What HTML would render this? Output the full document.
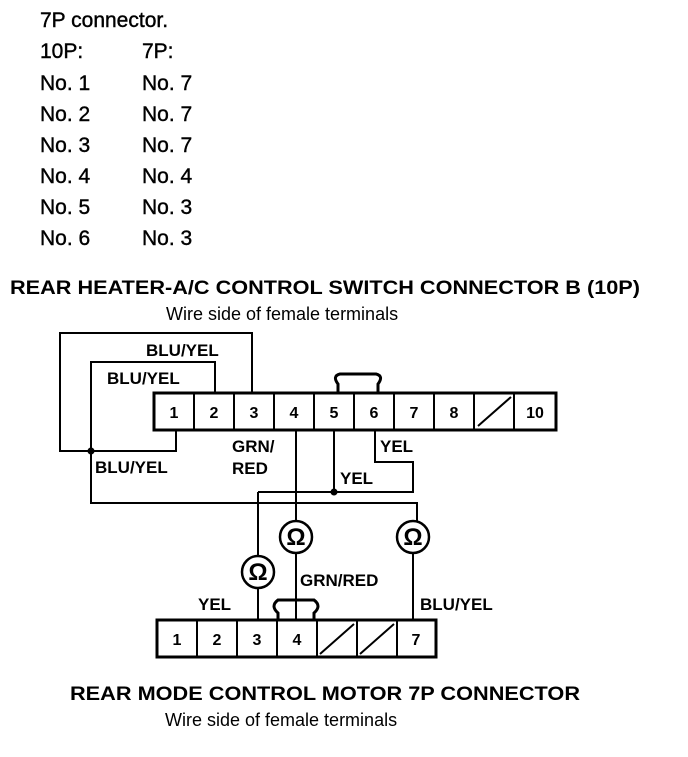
<!DOCTYPE html>
<html><head><style>
body{margin:0;background:#fff;width:688px;height:752px;overflow:hidden}
svg text{font-family:"Liberation Sans",sans-serif}
</style></head><body>
<svg width="688" height="752" viewBox="0 0 688 752">
<g font-size="21" fill="#000" stroke="#000" stroke-width="0.4">
<text x="40" y="27">7P connector.</text>
<text x="40" y="58">10P:</text><text x="142" y="58">7P:</text>
<text x="40" y="90">No. 1</text><text x="142" y="90">No. 7</text>
<text x="40" y="121">No. 2</text><text x="142" y="121">No. 7</text>
<text x="40" y="152">No. 3</text><text x="142" y="152">No. 7</text>
<text x="40" y="183">No. 4</text><text x="142" y="183">No. 4</text>
<text x="40" y="214">No. 5</text><text x="142" y="214">No. 3</text>
<text x="40" y="245">No. 6</text><text x="142" y="245">No. 3</text>
</g>
<text x="10" y="294" font-size="19" font-weight="bold" textLength="630" lengthAdjust="spacingAndGlyphs">REAR HEATER-A/C CONTROL SWITCH CONNECTOR B (10P)</text>
<text x="166" y="320" font-size="18">Wire side of female terminals</text>
<text x="70" y="700" font-size="19" font-weight="bold" textLength="510" lengthAdjust="spacingAndGlyphs">REAR MODE CONTROL MOTOR 7P CONNECTOR</text>
<text x="165" y="726" font-size="18">Wire side of female terminals</text>
<g fill="none" stroke="#000" stroke-width="2">
<rect x="154" y="393" width="402" height="37" stroke-width="3"/>
<path d="M194 393V430M234 393V430M274 393V430M314 393V430M354 393V430M394 393V430M434 393V430M474 393V430M514 393V430M478 426L511 397"/>
<path d="M338 393V384Q332 376 340 374H376Q384 376 378 384V393" stroke-width="3"/>
<path d="M252 393V333H60V451H91"/>
<path d="M215 393V362H91V503H417V521"/>
<path d="M176 430V451H91"/>
<path d="M296 430V521"/>
<path d="M334 430V492"/>
<path d="M258 492H413V462H375V430"/>
<path d="M258 492V556"/>
<circle cx="258" cy="572" r="16" stroke-width="2.5"/>
<circle cx="296" cy="537" r="16" stroke-width="2.5"/>
<circle cx="413" cy="537" r="16" stroke-width="2.5"/>
<path d="M258 588V620M296 553V620M413 553V620"/>
<rect x="157" y="620" width="279" height="37" stroke-width="3"/>
<path d="M197 620V657M237 620V657M277 620V657M317 620V657M357 620V657M397 620V657M320 654L354 624M360 654L394 624"/>
<path d="M278 620V613Q270 606 278 600H314Q322 606 314 613V620" stroke-width="3"/>
</g>
<circle cx="91" cy="451" r="3.5"/><circle cx="334" cy="492" r="3.5"/>
<g font-size="24" text-anchor="middle" font-weight="bold"><text x="258" y="580">Ω</text><text x="296" y="545">Ω</text><text x="413" y="545">Ω</text></g>
<g font-size="17" font-weight="bold">
<text x="146" y="356">BLU/YEL</text>
<text x="107" y="384">BLU/YEL</text>
<text x="95" y="473">BLU/YEL</text>
<text x="232" y="452">GRN/</text><text x="232" y="474">RED</text>
<text x="380" y="452">YEL</text>
<text x="340" y="484">YEL</text>
<text x="300" y="586">GRN/RED</text>
<text x="198" y="610">YEL</text>
<text x="420" y="610">BLU/YEL</text>
</g>
<g font-size="16" text-anchor="middle" font-weight="bold">
<text x="174" y="418">1</text><text x="214" y="418">2</text><text x="254" y="418">3</text><text x="294" y="418">4</text><text x="334" y="418">5</text><text x="374" y="418">6</text><text x="414" y="418">7</text><text x="454" y="418">8</text><text x="535" y="418">10</text>
<text x="177" y="645">1</text><text x="217" y="645">2</text><text x="257" y="645">3</text><text x="297" y="645">4</text><text x="416" y="645">7</text>
</g>
</svg>
</body></html>
